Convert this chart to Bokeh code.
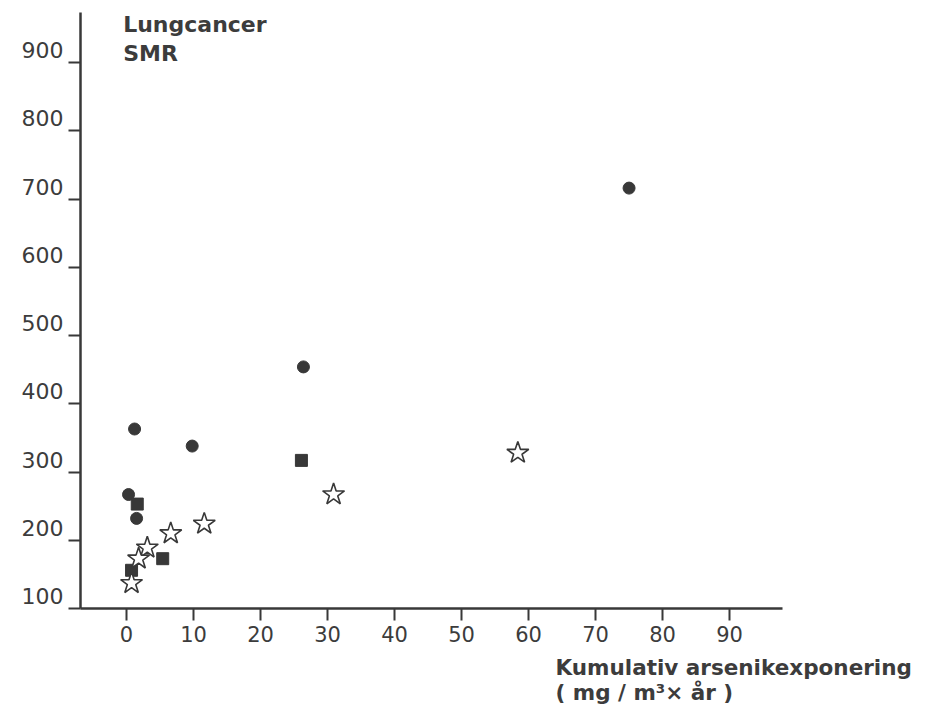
from bokeh.plotting import figure
from bokeh.models import Range1d, FixedTicker, Label, Title
from bokeh.embed import file_html
from bokeh.resources import INLINE

# Data (x: cumulative arsenic exposure, y: lung cancer SMR)
circle_x = [75.0, 26.4, 1.2, 9.8, 0.3, 1.5]
circle_y = [716, 454, 363, 338, 267, 232]

square_x = [26.1, 1.6, 5.4, 0.75]
square_y = [317, 253, 173, 156]

star_x = [58.4, 30.9, 11.6, 6.6, 3.1, 1.8, 0.75]
star_y = [328, 267, 224, 210, 189, 173, 137]

x_ticks = [0, 10, 20, 30, 40, 50, 60, 70, 80, 90]
y_ticks = [100, 200, 300, 400, 500, 600, 700, 800, 900]

y_title = ["Lungcancer", "SMR"]
x_title = ["Kumulativ arsenikexponering", "( mg / m\u00b3\u00d7 \u00e5r )"]

INK = "#383838"
TXT = "#3c3c3c"

p = figure(width=941, height=712, output_backend="svg", toolbar_location=None,
           x_range=Range1d(-6.87, 97.9), y_range=Range1d(100, 973.3),
           min_border_left=80, min_border_top=12, min_border_right=159, min_border_bottom=104)
p.outline_line_color = None
p.grid.grid_line_color = None
p.background_fill_color = "white"
p.border_fill_color = "white"

for ax in (p.xaxis[0], p.yaxis[0]):
    ax.axis_line_color = INK
    ax.axis_line_width = 2.5
    ax.major_tick_line_color = INK
    ax.major_tick_line_width = 2
    ax.major_tick_in = 0
    ax.minor_tick_line_color = None
    ax.major_label_text_color = TXT
    ax.major_label_text_font = "DejaVu Sans"

p.xaxis.ticker = FixedTicker(ticks=x_ticks)
p.yaxis.ticker = FixedTicker(ticks=y_ticks)
p.yaxis.major_label_overrides = {t: f"{t}\n " for t in y_ticks}
p.yaxis.major_label_text_line_height = 0.95
p.xaxis.major_tick_out = 12
p.yaxis.major_tick_out = 12
p.xaxis.major_label_text_font_size = "21px"
p.yaxis.major_label_text_font_size = "22px"
p.xaxis.major_label_standoff = 5
p.yaxis.major_label_standoff = 5

p.scatter(circle_x, circle_y, marker="circle", size=12, fill_color=INK, line_color=INK)
p.scatter(square_x, square_y, marker="square", size=12, fill_color=INK, line_color=INK)
p.scatter(star_x, star_y, marker="star", size=23, fill_color="white", line_color=INK, line_width=1.6)

p.add_layout(Label(x=-0.5, y=974, text=y_title[0], text_font="DejaVu Sans", text_font_style="bold",
                   text_font_size="22px", text_color=TXT, text_baseline="top"))
p.add_layout(Label(x=-0.5, y=931, text=y_title[1], text_font="DejaVu Sans", text_font_style="bold",
                   text_font_size="22px", text_color=TXT, text_baseline="top"))

p.add_layout(Title(text=x_title[0] + "\n" + x_title[1], align="left", offset=475, standoff=16,
                   text_font="DejaVu Sans", text_font_style="bold", text_font_size="21.5px",
                   text_line_height=1.0, text_color=TXT), "below")

open("out.html", "w").write(file_html(p, INLINE))
